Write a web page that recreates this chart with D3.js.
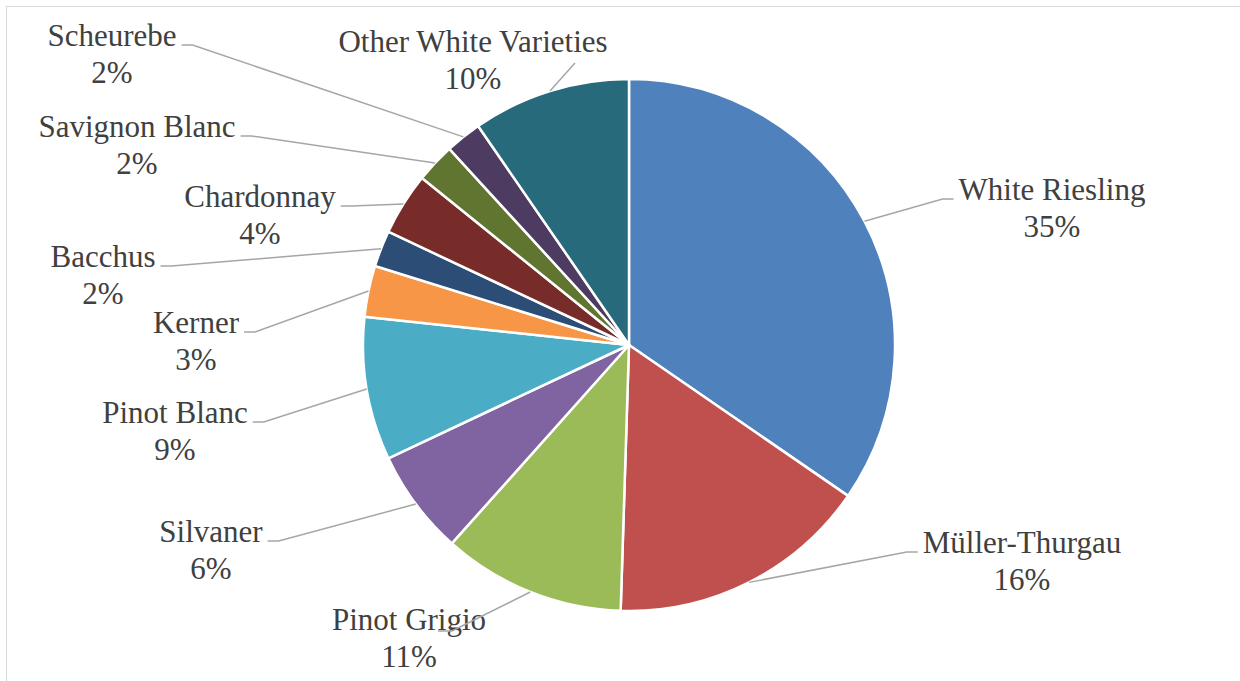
<!DOCTYPE html>
<html>
<head>
<meta charset="utf-8">
<script src="https://cdn.jsdelivr.net/npm/d3@7"></script>
<style>
  html, body { margin: 0; padding: 0; background: #fff; }
  svg { display: block; }
  .lbl { font-family: "Liberation Serif", "Times New Roman", Times, "DejaVu Serif", serif; }
</style>
</head>
<body>
<div id="chart"></div>
<script>
// wine varieties, clockwise from 12 o'clock
var varieties = ["White Riesling", "Müller-Thurgau", "Pinot Grigio", "Silvaner", "Pinot Blanc",
                 "Kerner", "Bacchus", "Chardonnay", "Savignon Blanc", "Scheurebe", "Other White Varieties"];
var shares = [34.6, 15.9, 11.1, 6.4, 8.7, 3.1, 2.2, 3.8, 2.4, 2.2, 9.6];
var colors = ["#4F81BD", "#C0504D", "#9BBB59", "#8064A2", "#4BACC6", "#F79646",
              "#2C4D75", "#772C2A", "#5F7530", "#4D3B62", "#276A7C"];

// label placement (centre x, first baseline, which side the leader comes in from)
var labelPos = [
  {x: 1052, y: 200, side: "right"},
  {x: 1022, y: 553, side: "right"},
  {x: 409,  y: 630, side: "inside", end: [438, 631], bend: [452, 631]},
  {x: 211,  y: 542, side: "left"},
  {x: 175,  y: 423, side: "left"},
  {x: 196,  y: 333, side: "left"},
  {x: 103,  y: 267, side: "left"},
  {x: 260,  y: 207, side: "left"},
  {x: 137,  y: 137, side: "left"},
  {x: 112,  y: 46,  side: "left"},
  {x: 473,  y: 52,  side: "top", end: [575, 63]}
];

var width = 1240, height = 681;
var cx = 629, cy = 345, radius = 266;

var svg = d3.select("#chart").append("svg")
  .attr("width", width)
  .attr("height", height);

// chart frame (only top and left edges fall inside the picture)
svg.append("rect")
  .attr("x", 6.5).attr("y", 6.5)
  .attr("width", width + 20).attr("height", height + 20)
  .attr("fill", "none")
  .attr("stroke", "#d9d9d9")
  .attr("stroke-width", 1);

var pie = d3.pie().sort(null).value(d => d);
var arcs = pie(shares);

var arc = d3.arc().innerRadius(0).outerRadius(radius);

var g = svg.append("g").attr("transform", "translate(" + cx + "," + cy + ")");

g.selectAll("path.slice")
  .data(arcs)
  .enter().append("path")
  .attr("class", "slice")
  .attr("d", arc)
  .attr("fill", (d, i) => colors[i])
  .attr("stroke", "#fff")
  .attr("stroke-width", 2.5)
  .attr("stroke-linejoin", "round");

var fmt = d3.format(".0f");
var fontSize = 31;

var labels = svg.append("g")
  .attr("class", "lbl")
  .attr("font-size", fontSize)
  .attr("fill", "#404040");

var leaders = svg.append("g");

arcs.forEach((d, i) => {
  var p = labelPos[i];
  var t = labels.append("text")
    .attr("text-anchor", "middle")
    .attr("x", p.x)
    .attr("y", p.y);
  var first = t.append("tspan").attr("x", p.x).text(varieties[i]);
  t.append("tspan").attr("x", p.x).attr("dy", fontSize * 1.2).text(fmt(shares[i]) + "%");

  // leader starts on the rim at the slice's middle angle
  var mid = (d.startAngle + d.endAngle) / 2;
  var sx = cx + radius * Math.sin(mid);
  var sy = cy - radius * Math.cos(mid);

  var pts;
  var w = first.node().getComputedTextLength();
  var ly = p.y - 1;
  if (p.side === "left") {
    var ex = p.x + w / 2 + 5;
    pts = [[sx, sy], [ex + 11, ly], [ex, ly]];
  } else if (p.side === "right") {
    var ex2 = p.x - w / 2 - 5;
    pts = [[sx, sy], [ex2 - 11, ly], [ex2, ly]];
  } else if (p.side === "inside") {
    pts = [[sx, sy], p.bend, p.end];
  } else {
    pts = [[sx, sy], p.end];
  }

  leaders.append("path")
    .attr("d", d3.line()(pts))
    .attr("fill", "none")
    .attr("stroke", "#a6a6a6")
    .attr("stroke-width", 1.5);
});
</script>
</body>
</html>
